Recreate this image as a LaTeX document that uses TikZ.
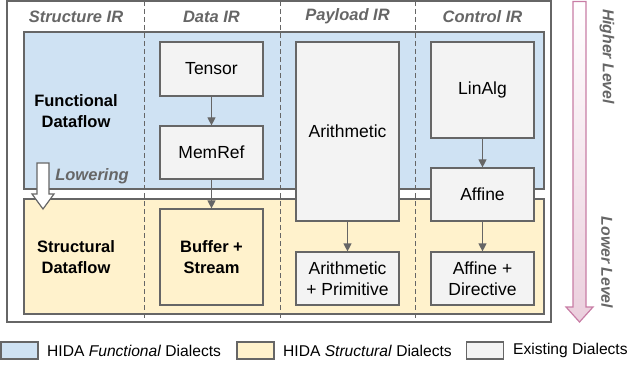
\documentclass[tikz,border=0pt]{standalone}
\usepackage{fontspec}
\setmainfont{Liberation Sans}
\usetikzlibrary{arrows.meta}
\definecolor{bluef}{HTML}{CFE2F3}
\definecolor{yellowf}{HTML}{FFF2CC}
\definecolor{grayf}{HTML}{F3F3F3}
\definecolor{edgec}{HTML}{666666}
\definecolor{pinkb}{HTML}{C87DA5}
\definecolor{pinkf}{HTML}{EBCFDD}
\begin{document}
\begin{tikzpicture}[x=1pt,y=-1pt,
  region/.style={draw=edgec, line width=1.2pt, inner sep=0pt},
  dbox/.style={draw=edgec, fill=grayf, line width=1.2pt, minimum width=103pt,
    align=center, inner sep=0pt, font=\fontsize{17.5}{20.5}\selectfont},
  hdr/.style={font=\fontsize{16.5}{18}\selectfont\bfseries\itshape, text=edgec},
  lbl/.style={font=\fontsize{16.5}{21.5}\selectfont\bfseries, align=center},
  sep/.style={draw=edgec, line width=1pt, dash pattern=on 5pt off 3pt},
  flow/.style={draw=edgec, line width=1.2pt, -{Triangle[length=8pt,width=8pt]}},
  legbox/.style={draw=edgec, line width=1.2pt, minimum width=37pt, minimum height=17pt, inner sep=0pt},
  legtxt/.style={anchor=west, inner sep=0pt, font=\fontsize{15.6}{18}\selectfont},
  sidetxt/.style={font=\fontsize{15.8}{18}\selectfont\bfseries\itshape, text=edgec, rotate=-90}]
\useasboundingbox (0,0) rectangle (631,366);
% regions
\node[region, minimum width=544pt, minimum height=321pt] (outer) at (279,161.5) {};
\node[region, fill=bluef, minimum width=520pt, minimum height=157pt] (funcbg) at (284,110.5) {};
\node[region, fill=yellowf, minimum width=520pt, minimum height=115pt] (strucbg) at (284,256.5) {};
% separators
\coordinate (s1t) at (144,1); \coordinate (s1b) at (144,322);
\coordinate (s2t) at (280,1); \coordinate (s2b) at (280,322);
\coordinate (s3t) at (415,1); \coordinate (s3b) at (415,322);
\draw[sep] (s1t) -- (s1b);
\draw[sep] (s2t) -- (s2b);
\draw[sep] (s3t) -- (s3b);
% headers
\node[hdr] (h1) at (76,16.5) {Structure IR};
\node[hdr] (h2) at (211.5,16.5) {Data IR};
\node[hdr] (h3) at (347.5,16.5) {Payload IR};
\node[hdr] (h4) at (482.5,16.5) {Control IR};
% row labels
\node[lbl] (fd) at (76,111) {Functional\\Dataflow};
\node[lbl] (sd) at (76,257) {Structural\\Dataflow};
% lowering arrow
\draw[draw=edgec, line width=1.2pt, fill=white] (37,163) -- (49,163) -- (49,194) -- (54,194) -- (43,209) -- (32,194) -- (37,194) -- cycle;
\node[hdr] (low) at (92,176) {Lowering};
% boxes
\node[dbox, minimum height=54pt] (tensor) at (211.5,69) {Tensor};
\node[dbox, minimum height=53pt] (memref) at (211.5,152.5) {MemRef};
\node[dbox, fill=yellowf, minimum height=96pt, font=\fontsize{16.5}{21}\selectfont\bfseries] (buffer) at (211.5,257) {Buffer +\\Stream};
\node[dbox, minimum height=179pt] (arith) at (347.5,131.5) {Arithmetic};
\node[dbox, minimum height=53pt] (arithprim) at (347.5,278.5) {Arithmetic\\+ Primitive};
\node[dbox, minimum height=96pt] (linalg) at (482.5,90) {LinAlg};
\node[dbox, minimum height=53pt] (affine) at (482.5,194.5) {Affine};
\node[dbox, minimum height=53pt] (affdir) at (482.5,278.5) {Affine +\\Directive};
% flows
\draw[flow] (tensor) -- (memref);
\draw[flow] (memref) -- (buffer);
\draw[flow] (arith) -- (arithprim);
\draw[flow] (linalg) -- (affine);
\draw[flow] (affine) -- (affdir);
% level arrow
\path[draw=pinkb, line width=1.2pt, top color=white, bottom color=pinkf]
  (573,1.5) -- (586,1.5) -- (586,307) -- (593,307) -- (579.5,322) -- (566,307) -- (573,307) -- cycle;
\node[sidetxt] (hl) at (607,56.5) {Higher Level};
\node[sidetxt] (ll) at (607,262.5) {Lower Level};
% legend
\node[legbox, fill=bluef] (lb1) at (19.5,350.5) {};
\node[legtxt] (lt1) at (47,350.5) {HIDA \textit{Functional} Dialects};
\node[legbox, fill=yellowf] (lb2) at (255.5,350.5) {};
\node[legtxt] (lt2) at (283,350.5) {HIDA \textit{Structural} Dialects};
\node[legbox, fill=grayf] (lb3) at (485,350.5) {};
\node[legtxt] (lt3) at (513,350.5) {Existing Dialects};
\end{tikzpicture}
\end{document}
